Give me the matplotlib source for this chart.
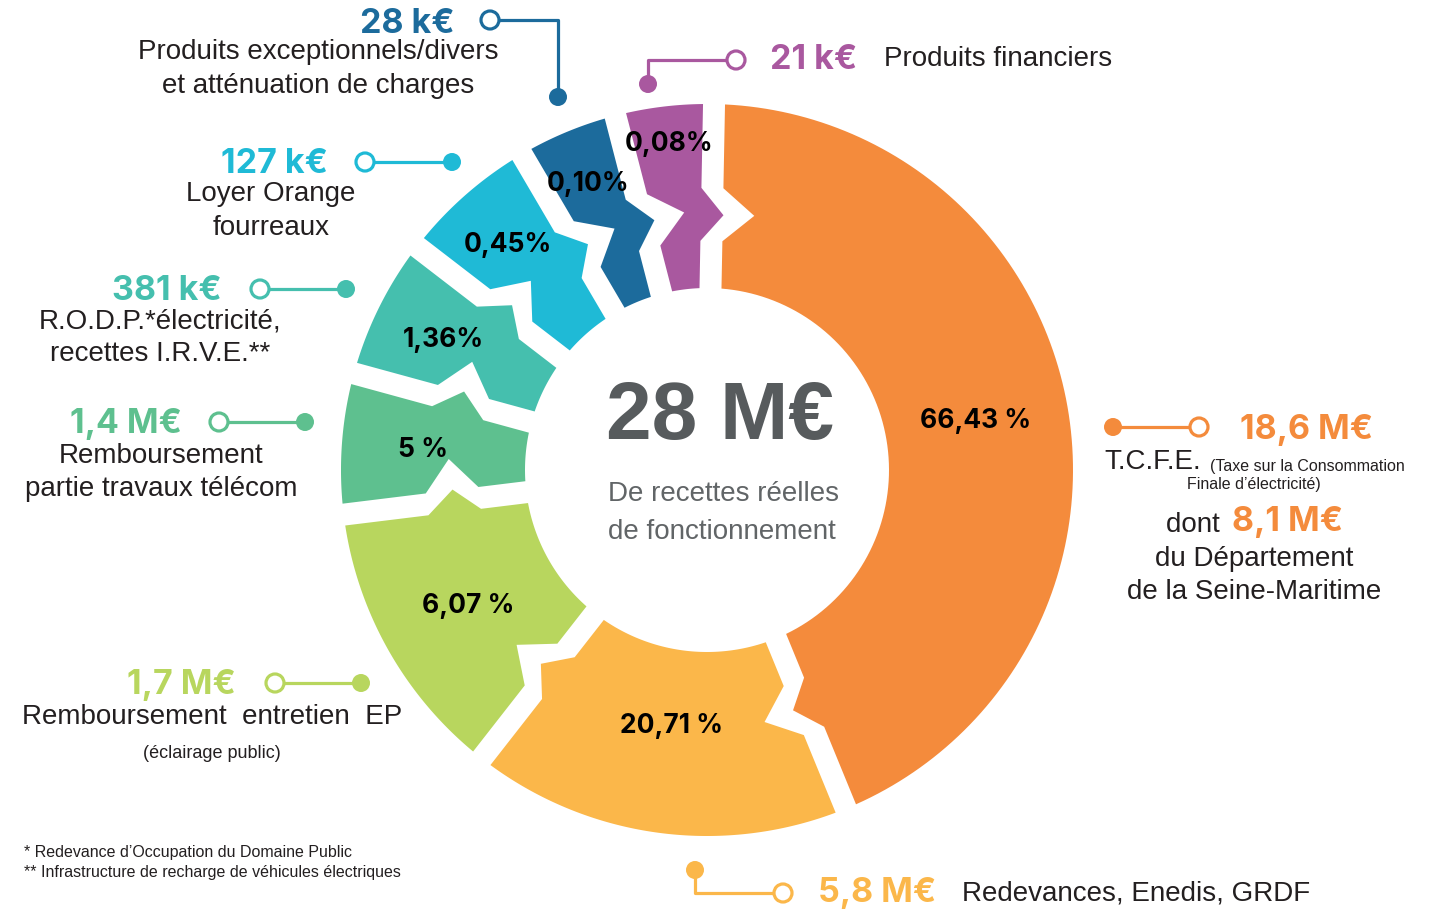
import numpy as np
import matplotlib
matplotlib.use("Agg")
import matplotlib.pyplot as plt
from matplotlib.patches import Polygon, Circle

# ---------------- data ----------------
categories = ["T.C.F.E.", "Redevances, Enedis, GRDF", "Remboursement entretien EP",
              "Remboursement partie travaux télécom", "R.O.D.P. électricité, recettes I.R.V.E.",
              "Loyer Orange fourreaux", "Produits exceptionnels/divers et atténuation de charges",
              "Produits financiers"]
shares = [66.43, 20.71, 6.07, 5.00, 1.36, 0.45, 0.10, 0.08]
percent_labels = ["66,43 %", "20,71 %", "6,07 %", "5 %", "1,36%", "0,45%", "0,10%", "0,08%"]
amount_labels = ["18,6 M€", "5,8 M€", "1,7 M€", "1,4 M€", "381 k€", "127 k€", "28 k€", "21 k€"]
# angular weight of each slice as drawn in the infographic (not proportional to shares)
slice_weights = [156.6, 60.3, 45.0, 22.3, 22.3, 22.0, 15.9, 15.6]
total_label = "28 M€"
subtitle_lines = ["De recettes réelles", "de fonctionnement"]

# ---------------- style ----------------
colors = ["#F48B3C", "#FBB74A", "#B8D65E", "#5EC08F", "#45BFAE", "#1FBAD6", "#1C6B9C", "#A9589F"]
DARK = "#231F20"
W, H = 1443, 910
cx, cy = 707, 470
R_OUT, R_IN = 366, 182
R_A, R_M, R_B = 282, 255, 229
TOOTH = 27
HGAP = 11
start_angle = 1.1
label_radius = [273, 257, 274, 285, 294, 301, 311, 329]

NUM_FONT = ["Inter", "Liberation Sans", "DejaVu Sans"]
TXT_FONT = ["Liberation Sans", "DejaVu Sans"]
DY = 2  # small vertical nudge for label text

fig = plt.figure(figsize=(W / 100, H / 100), dpi=100)
ax = fig.add_axes([0, 0, 1, 1])
ax.set_xlim(0, W)
ax.set_ylim(H, 0)
ax.set_aspect("equal")
ax.axis("off")


def pt(r, phi_deg, t=0.0):
    p = np.radians(phi_deg)
    return (cx + r * np.sin(p) + t * np.cos(p), cy - r * np.cos(p) + t * np.sin(p))


bounds = start_angle + np.concatenate([[0], np.cumsum(slice_weights)])
bounds = bounds[0] + (bounds - bounds[0]) * 360.0 / (bounds[-1] - bounds[0])
k = 1.4
for i, (ps, pe) in enumerate(zip(bounds[:-1], bounds[1:])):
    pts = []
    a0 = ps + np.degrees(HGAP / R_OUT)
    a1 = pe - np.degrees(HGAP / R_OUT)
    for a in np.linspace(a0, a1, 120):
        pts.append(pt(R_OUT, a))
    pts += [pt(R_A, pe, -HGAP), pt(R_M, pe, TOOTH - HGAP * k), pt(R_B, pe, -HGAP)]
    b1 = pe - np.degrees(HGAP / R_IN)
    b0 = ps + np.degrees(HGAP / R_IN)
    for a in np.linspace(b1, b0, 80):
        pts.append(pt(R_IN, a))
    pts += [pt(R_B, ps, HGAP), pt(R_M, ps, TOOTH + HGAP * k), pt(R_A, ps, HGAP)]
    ax.add_patch(Polygon(pts, closed=True, facecolor=colors[i], edgecolor="none", zorder=2))
    mid = (ps + pe) / 2
    lx, ly = pt(label_radius[i], mid)
    ax.text(lx, ly + 1, percent_labels[i], ha="center", va="center", fontsize=19,
            fontweight="bold", family=NUM_FONT, color="black", zorder=5)

# ---------------- centre ----------------
ax.text(606, 418, total_label, ha="left", va="center", fontsize=59, fontweight="bold",
        family=TXT_FONT, color="#575B5D", zorder=5)
ax.text(608, 494, subtitle_lines[0], ha="left", va="center", fontsize=20,
        family=TXT_FONT, color="#616567", zorder=5)
ax.text(608, 532, subtitle_lines[1], ha="left", va="center", fontsize=20,
        family=TXT_FONT, color="#616567", zorder=5)

# ---------------- connectors ----------------
LW = 2.3


def connector(path, open_end, filled_end, color):
    xs, ys = zip(*path)
    ax.plot(xs, ys, color=color, lw=LW, solid_capstyle="butt", zorder=3)
    ax.add_patch(Circle(open_end, 9, facecolor="white", edgecolor=color, lw=LW, zorder=4))
    ax.add_patch(Circle(filled_end, 9, facecolor=color, edgecolor="none", zorder=4))


connector([(490, 20), (558, 20), (558, 97)], (490, 20), (558, 97), colors[6])
connector([(648, 84), (648, 60), (736, 60)], (736, 60), (648, 84), colors[7])
connector([(365, 162), (452, 162)], (365, 162), (452, 162), colors[5])
connector([(260, 289), (346, 289)], (260, 289), (346, 289), colors[4])
connector([(219, 422), (305, 422)], (219, 422), (305, 422), colors[3])
connector([(275, 683), (361, 683)], (275, 683), (361, 683), colors[2])
connector([(1113, 427), (1199, 427)], (1199, 427), (1113, 427), colors[0])
connector([(695, 870), (695, 893), (783, 893)], (783, 893), (695, 870), colors[1])

# ---------------- labels ----------------
VAL = dict(fontsize=24.5, fontweight="bold", family=NUM_FONT, va="center")
BODY = dict(fontsize=20, family=TXT_FONT, color=DARK, va="center")
SMALL = dict(fontsize=11.5, family=TXT_FONT, color=DARK, va="center")


def t(x, y, s, **kw):
    ax.text(x, y + DY, s, **kw)


t(455, 22, amount_labels[6], ha="right", color=colors[6], **VAL)
t(318, 50, "Produits exceptionnels/divers", ha="center", **BODY)
t(318, 84, "et atténuation de charges", ha="center", **BODY)

t(770, 58, amount_labels[7], ha="left", color=colors[7], **VAL)
t(884, 57, "Produits financiers", ha="left", **BODY)

t(328, 162, amount_labels[5], ha="right", color=colors[5], **VAL)
t(271, 192, "Loyer Orange", ha="center", **BODY)
t(271, 226, "fourreaux", ha="center", **BODY)

t(222, 289, amount_labels[4], ha="right", color=colors[4], **VAL)
t(160, 319, "R.O.D.P.*électricité,", ha="center", **BODY)
t(160, 352, "recettes I.R.V.E.**", ha="center", **BODY)

t(182, 422, amount_labels[3], ha="right", color=colors[3], **VAL)
t(161, 454, "Remboursement", ha="center", **BODY)
t(161, 487, "partie travaux télécom", ha="center", **BODY)

t(236, 683, amount_labels[2], ha="right", color=colors[2], **VAL)
t(212, 715, "Remboursement  entretien  EP", ha="center", **BODY)
t(212, 752, "(éclairage public)", ha="center", fontsize=13, family=TXT_FONT,
  color=DARK, va="center")

t(1240, 428, amount_labels[0], ha="left", color=colors[0], **VAL)
t(1104, 460, "T.C.F.E.", ha="left", **BODY)
t(1210, 464, "(Taxe sur la Consommation", ha="left", **SMALL)
t(1254, 483, "Finale d’électricité)", ha="center", **SMALL)
t(1228, 523, "dont ", ha="right", **BODY)
t(1232, 520, "8,1 M€", ha="left", color=colors[0], **VAL)
t(1254, 557, "du Département", ha="center", **BODY)
t(1254, 590, "de la Seine-Maritime", ha="center", **BODY)

t(818, 891, amount_labels[1], ha="left", color=colors[1], **VAL)
t(962, 892, "Redevances, Enedis, GRDF", ha="left", **BODY)

t(24, 851, "* Redevance d’Occupation du Domaine Public", ha="left", **SMALL)
t(24, 870, "** Infrastructure de recharge de véhicules électriques", ha="left", **SMALL)

fig.savefig("out.png", dpi=100, facecolor="white")
